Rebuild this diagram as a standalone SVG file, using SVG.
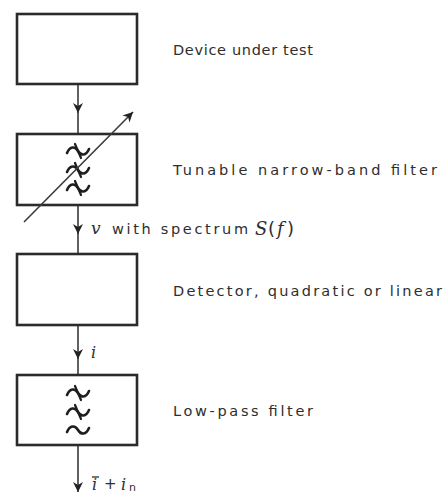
<svg xmlns="http://www.w3.org/2000/svg" width="448" height="495" viewBox="0 0 448 495">
  <style>
    .box { fill: #fff; stroke: #2b2b2b; stroke-width: 2.6; }
    .wire { fill: none; stroke: #3a3a3a; stroke-width: 1.6; }
    .sym { fill: none; stroke: #1e1e1e; stroke-width: 2.6; stroke-linecap: round; }
    .lbl { font-family: "DejaVu Sans", sans-serif; font-size: 14.5px; fill: #2e2e2e; }
    .math { font-family: "DejaVu Serif", serif; font-style: italic; fill: #2e2e2e; }
  </style>
  <defs>
    <marker id="head" viewBox="0 0 10 10" refX="10" refY="5" markerWidth="10" markerHeight="10" markerUnits="userSpaceOnUse" orient="auto">
      <path d="M0,0 L10,5 L0,10 L3,5 Z" fill="#222"/>
    </marker>
    <!-- tilde wave -->
    <path id="tilde" d="M-11,2 C-8,-5 -3,-5 0,0 C3,5 8,5 11,-2"/>
    <!-- tilde with crossing stroke -->
    <g id="xtilde">
      <use href="#tilde"/>
      <path d="M-3,-7 L3,7" stroke-width="2.2"/>
    </g>
  </defs>

  <g id="connectors">
    <path class="wire" d="M78,84 V113" marker-end="url(#head)"/>
    <path class="wire" d="M78,112 V133"/>
    <path class="wire" d="M78,205 V234" marker-end="url(#head)"/>
    <path class="wire" d="M78,233 V253"/>
    <path class="wire" d="M78,325 V359" marker-end="url(#head)"/>
    <path class="wire" d="M78,358 V374"/>
    <path class="wire" d="M78,445 V492" marker-end="url(#head)"/>
  </g>

  <g id="device">
    <rect class="box" x="17" y="14" width="120" height="70"/>
    <text class="lbl" x="173" y="55" textLength="140">Device under test</text>
  </g>

  <g id="tunable-filter">
    <rect class="box" x="17" y="134" width="120" height="71"/>
    <g class="sym">
      <use href="#xtilde" x="78" y="151"/>
      <use href="#xtilde" x="78" y="170"/>
      <use href="#xtilde" x="78" y="188"/>
    </g>
    <path class="wire" d="M24,222 L133,112" stroke-width="1.5" marker-end="url(#head)"/>
    <text class="lbl" x="173" y="175" textLength="264">Tunable narrow-band filter</text>
  </g>

  <g id="detector">
    <rect class="box" x="17" y="254" width="120" height="71"/>
    <text class="lbl" x="173" y="296" textLength="269">Detector, quadratic or linear</text>
  </g>

  <g id="lowpass-filter">
    <rect class="box" x="17" y="375" width="120" height="70"/>
    <g class="sym">
      <use href="#xtilde" x="78" y="393"/>
      <use href="#xtilde" x="78" y="412"/>
      <use href="#tilde" x="78" y="430"/>
    </g>
    <text class="lbl" x="173" y="416" textLength="140">Low-pass filter</text>
  </g>

  <g id="signal-labels">
    <text x="91" y="234" class="math" font-size="17">v</text>
    <text class="lbl" x="112" y="234" textLength="136">with spectrum</text>
    <text x="255" y="235" class="math" font-size="18">S</text>
    <text x="268" y="235" font-family="DejaVu Sans, sans-serif" font-size="18" fill="#2e2e2e">(</text>
    <text x="277" y="235" class="math" font-size="18">f</text>
    <text x="287" y="235" font-family="DejaVu Sans, sans-serif" font-size="18" fill="#2e2e2e">)</text>
    <text x="91" y="358" class="math" font-size="16">i</text>
    <text x="92" y="490" class="math" font-size="16">i</text>
    <path d="M92,477 H99" stroke="#2e2e2e" stroke-width="1.3"/>
    <text x="104" y="489" font-family="DejaVu Sans, sans-serif" font-size="15" fill="#2e2e2e">+</text>
    <text x="121" y="490" class="math" font-size="16">i</text>
    <text x="129" y="491" font-family="DejaVu Sans, sans-serif" font-size="11" fill="#2e2e2e">n</text>
  </g>
</svg>
